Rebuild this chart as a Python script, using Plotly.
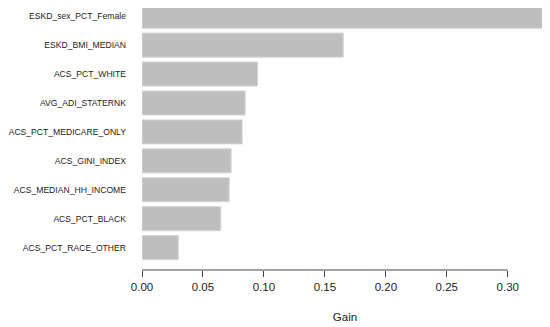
import plotly.graph_objects as go

features = ["ESKD_sex_PCT_Female", "ESKD_BMI_MEDIAN", "ACS_PCT_WHITE", "AVG_ADI_STATERNK",
            "ACS_PCT_MEDICARE_ONLY", "ACS_GINI_INDEX", "ACS_MEDIAN_HH_INCOME",
            "ACS_PCT_BLACK", "ACS_PCT_RACE_OTHER"]
gain = [0.332, 0.165, 0.0947, 0.0846, 0.0821, 0.0731, 0.0715, 0.0646, 0.0297]
tick_vals = [0.00, 0.05, 0.10, 0.15, 0.20, 0.25, 0.30]
tick_text = ["0.00", "0.05", "0.10", "0.15", "0.20", "0.25", "0.30"]

fig = go.Figure(go.Bar(
    x=gain, y=features, orientation="h",
    marker=dict(color="#bebebe", line=dict(color="#d4d4d4", width=1)),
))

# the page body has an 8px default margin, so the figure is 8px smaller
fig.update_layout(
    width=542, height=319,
    margin=dict(l=134, r=2, t=0, b=57, autoexpand=False),
    paper_bgcolor="white", plot_bgcolor="white",
    bargap=0.17, showlegend=False,
    font=dict(family="Liberation Sans, Arial, sans-serif", color="#222222"),
    xaxis=dict(
        range=[0, 0.333], tickvals=tick_vals, ticktext=tick_text,
        showgrid=False, zeroline=False, showline=False,
        ticks="outside", ticklen=6, tickcolor="#444444", tickwidth=1,
        tickfont=dict(size=11.5), ticklabelstandoff=0,
        title=dict(text="Gain", font=dict(size=11.5), standoff=21),
    ),
    yaxis=dict(
        type="category", categoryorder="array", categoryarray=features,
        range=[8.774, -0.2835], showgrid=False, zeroline=False, showline=False,
        ticks="", tickfont=dict(size=8.6), ticklabelstandoff=15,
    ),
    shapes=[dict(type="line", xref="x", yref="paper", x0=0, x1=0.30, y0=0, y1=0,
                 line=dict(color="#444444", width=1))],
)

fig.write_html("out.html")
